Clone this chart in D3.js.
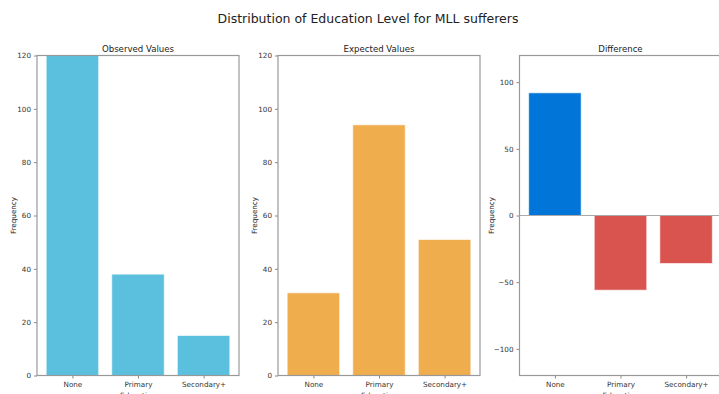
<!DOCTYPE html>
<html><head><meta charset="utf-8">
<script src="https://cdn.jsdelivr.net/npm/d3@7"></script>
<style>body{margin:0;background:#fff;} svg{display:block;font-family:"DejaVu Sans",sans-serif;}</style>
</head><body>
<script>
const categories = ["None", "Primary", "Secondary+"];
const observed = [123, 38, 15];
const expected = [31, 94, 51];
const difference = [92, -56, -36];
const freqTicks = [0, 20, 40, 60, 80, 100, 120];
const diffTicks = [-100, -50, 0, 50, 100];

(function () {
const W = 719, H = 394;
const svg = d3.select("body").append("svg").attr("width", W).attr("height", H);

svg.append("text").attr("x", 368).attr("y", 23).attr("text-anchor", "middle")
  .attr("font-size", 12.5).attr("fill", "#222").text("Distribution of Education Level for MLL sufferers");

const yTop = 55.5, yBot = 375.5;
const panels = [
  {x0: 37, title: "Observed Values", values: observed, domain: [0, 120], ticks: freqTicks, color: () => "#5bc0de", lab: 21},
  {x0: 278, title: "Expected Values", values: expected, domain: [0, 120], ticks: freqTicks, color: () => "#f0ad4e", lab: 21.5},
  {x0: 519.5, title: "Difference", values: difference, domain: [-120, 120], ticks: diffTicks, color: v => v >= 0 ? "#0275d8" : "#d9534f", zero: true, lab: 26}
];
const pw = 202;

panels.forEach((p, k) => {
  const g = svg.append("g");
  const x = d3.scaleLinear().domain([-0.54, 2.54]).range([p.x0, p.x0 + pw]);
  const y = d3.scaleLinear().domain(p.domain).range([yBot, yTop]);
  const clipId = "clip" + k;
  svg.append("clipPath").attr("id", clipId).append("rect")
    .attr("x", p.x0).attr("y", yTop).attr("width", pw).attr("height", yBot - yTop);
  const bars = g.append("g").attr("clip-path", `url(#${clipId})`);
  bars.selectAll("rect").data(p.values).join("rect")
    .attr("x", (d, i) => x(i - 0.4)).attr("width", x(0.8) - x(0))
    .attr("y", d => y(Math.max(0, d))).attr("height", d => Math.abs(y(d) - y(0)))
    .attr("fill", d => p.color(d)).attr("stroke", "rgba(255,255,255,0.6)").attr("stroke-width", 1);
  if (p.zero) {
    g.append("line").attr("x1", p.x0).attr("x2", p.x0 + pw).attr("y1", y(0)).attr("y2", y(0))
      .attr("stroke", "#aaa").attr("stroke-width", 1.2);
  }
  const ya = g.append("g").attr("transform", `translate(${p.x0},0)`)
    .call(d3.axisLeft(y).tickValues(p.ticks).tickSize(3).tickPadding(3).tickFormat(d => d < 0 ? "\u2212" + Math.abs(d) : d));
  ya.select(".domain").remove();
  ya.selectAll("line").attr("stroke", "#888");
  ya.selectAll("text").attr("font-size", 7.2).attr("fill", "#333").attr("font-family", "DejaVu Sans");
  const xa = g.append("g").attr("transform", `translate(0,${yBot})`)
    .call(d3.axisBottom(x).tickValues([0, 1, 2]).tickSize(3).tickPadding(3).tickFormat(i => categories[i]));
  xa.select(".domain").remove();
  xa.selectAll("line").attr("stroke", "#888");
  xa.selectAll("text").attr("font-size", 7.2).attr("fill", "#333").attr("font-family", "DejaVu Sans");
  g.append("rect").attr("x", p.x0).attr("y", yTop).attr("width", pw).attr("height", yBot - yTop)
    .attr("fill", "none").attr("stroke", "#999").attr("stroke-width", 1.2);
  g.append("text").attr("x", p.x0 + pw / 2).attr("y", yTop - 4).attr("text-anchor", "middle")
    .attr("font-size", 8.6).attr("fill", "#222").text(p.title);
  g.append("text").attr("transform", `translate(${p.x0 - p.lab},${(yTop + yBot) / 2}) rotate(-90)`)
    .attr("text-anchor", "middle").attr("font-size", 7.2).attr("fill", "#222").text("Frequency");
  g.append("text").attr("x", p.x0 + pw / 2).attr("y", yBot + 22).attr("text-anchor", "middle")
    .attr("font-size", 7.2).attr("fill", "#222").text("Education");
});
})();
</script>
</body></html>
